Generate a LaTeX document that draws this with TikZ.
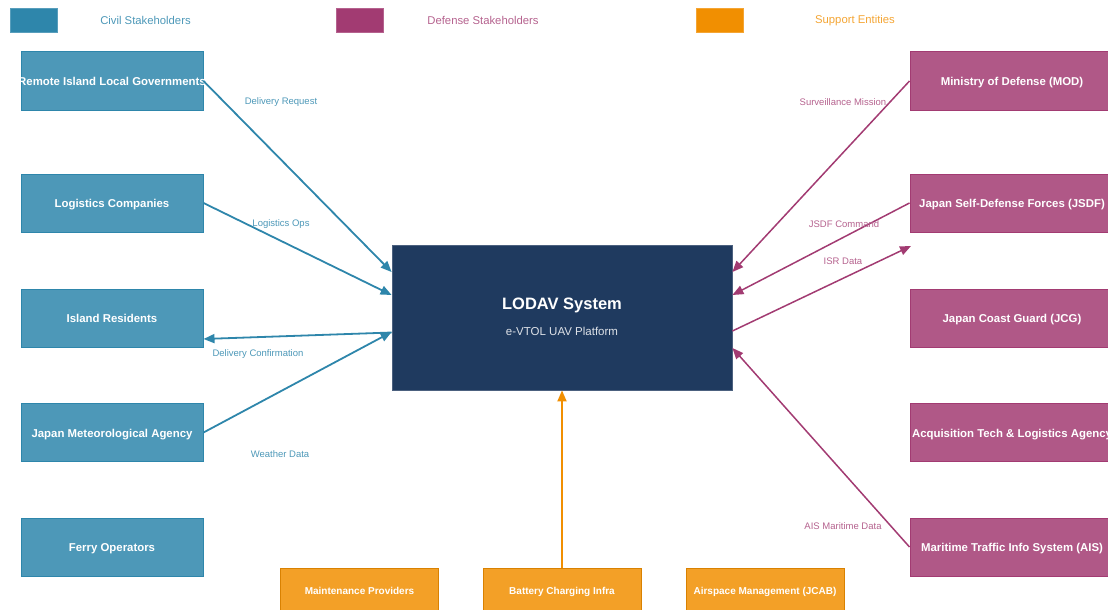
\documentclass[tikz,border=0pt]{standalone}
\usepackage{fontspec}
\setmainfont{Liberation Sans}
\usetikzlibrary{arrows.meta}
\definecolor{civil}{HTML}{2E86AB}
\definecolor{defense}{HTML}{A23B72}
\definecolor{support}{HTML}{F18F01}
\definecolor{core}{HTML}{1F3A5F}
\tikzset{
  civbox/.style={draw=civil, line width=1pt, fill=civil!85!white, minimum width=182pt, minimum height=58pt, inner sep=0pt, inner xsep=-10pt, text=white, text height=9.5pt, text depth=0pt, font=\bfseries\fontsize{11.4}{13}\selectfont},
  defbox/.style={draw=defense, line width=1pt, fill=defense!85!white, minimum width=204pt, minimum height=58pt, inner sep=0pt, inner xsep=-10pt, text=white, text height=9.5pt, text depth=0pt, font=\bfseries\fontsize{11.4}{13}\selectfont},
  supbox/.style={draw=support!90!black, line width=1pt, fill=support!85!white, minimum width=158pt, minimum height=45pt, inner sep=0pt, text=white, text height=8pt, text depth=0pt, font=\bfseries\fontsize{10}{12}\selectfont},
  swatch/.style={minimum width=47pt, minimum height=24pt, inner sep=0pt, line width=0.6pt},
  legtext/.style={font=\fontsize{11.3}{13}\selectfont, inner sep=0pt},
  lbl/.style={font=\fontsize{9.5}{11}\selectfont, inner sep=0pt},
  civarrow/.style={draw=civil, line width=1.8pt, -{Triangle[length=11pt,width=9pt]}},
  defarrow/.style={draw=defense, line width=1.5pt, -{Triangle[length=11pt,width=9pt]}},
  suparrow/.style={draw=support, line width=1.8pt, -{Triangle[length=11pt,width=9pt]}}
}
\begin{document}
\begin{tikzpicture}[x=1pt,y=-1pt]
\path[use as bounding box] (0,0) rectangle (1108,610);
\begin{scope}
\clip (0,0) rectangle (1108,610);
% legend
\node[swatch, fill=civil, draw=civil!80!white] (lgc) at (33.5,20) {};
\node[legtext, text=civil!85!white] (lgct) at (145.5,20.5) {Civil Stakeholders};
\node[swatch, fill=defense, draw=defense!80!white] (lgd) at (359.5,20) {};
\node[legtext, text=defense!80!white] (lgdt) at (483,20.5) {Defense Stakeholders};
\node[swatch, fill=support, draw=support!80!white] (lgs) at (719.5,20) {};
\node[legtext, text=support!80!white] (lgst) at (855,20.5) {Support Entities};

% central
\node[fill=core, draw=core!80!white, line width=0.8pt, minimum width=340pt, minimum height=145pt, inner sep=0pt] (lodav) at (562,317.5) {};
\node[text=white, font=\bfseries\fontsize{16.5}{19}\selectfont, inner sep=0pt] (lodavt) at (562,305) {LODAV System};
\node[text=white!85!core, font=\fontsize{11.5}{13}\selectfont, inner sep=0pt] (lodavs) at (562,331.5) {e-VTOL UAV Platform};

% civil
\node[civbox] (rig) at (112,81) {Remote Island Local Governments};
\node[civbox] (log) at (112,203) {Logistics Companies};
\node[civbox] (res) at (112,318) {Island Residents};
\node[civbox] (jma) at (112,432.5) {Japan Meteorological Agency};
\node[civbox] (fer) at (112,547) {Ferry Operators};

% defense
\node[defbox] (mod) at (1012,81) {Ministry of Defense (MOD)};
\node[defbox] (jsdf) at (1012,203) {Japan Self-Defense Forces (JSDF)};
\node[defbox] (jcg) at (1012,318) {Japan Coast Guard (JCG)};
\node[defbox] (atla) at (1012,432.5) {Acquisition Tech \& Logistics Agency};
\node[defbox] (ais) at (1012,547) {Maritime Traffic Info System (AIS)};

% support
\node[supbox] (mnt) at (359.5,590.5) {Maintenance Providers};
\node[supbox] (bat) at (562,590.5) {Battery Charging Infra};
\node[supbox] (jcab) at (765,590.5) {Airspace Management (JCAB)};
\end{scope}

% civil connectors
\draw[civarrow] (rig.east) -- ([yshift=45.5pt]lodav.west);
\draw[civarrow] (log.east) -- ([yshift=22.5pt]lodav.west);
\draw[civarrow] ([yshift=-15pt]lodav.west) -- ([yshift=-21pt]res.east);
\draw[civarrow] (jma.east) -- ([yshift=-14.5pt]lodav.west);

% defense connectors
\coordinate (isrend) at (911,246);
\draw[defarrow] (mod.west) -- ([yshift=45.5pt]lodav.east);
\draw[defarrow] (jsdf.west) -- ([yshift=22.5pt]lodav.east);
\draw[defarrow] ([yshift=-13.5pt]lodav.east) -- (isrend);
\draw[defarrow] (ais.west) -- ([yshift=-30.5pt]lodav.east);

% support connector
\draw[suparrow] (bat.north) -- (lodav.south);

% labels
\node[lbl, text=civil!85!white] (l1) at (281,102.5) {Delivery Request};
\node[lbl, text=civil!85!white] (l2) at (281,224.5) {Logistics Ops};
\node[lbl, text=civil!85!white] (l3) at (258,354) {Delivery Confirmation};
\node[lbl, text=civil!85!white] (l4) at (280,454) {Weather Data};
\node[lbl, text=defense!80!white] (l5) at (843,102.5) {Surveillance Mission};
\node[lbl, text=defense!80!white] (l6) at (844,224.5) {JSDF Command};
\node[lbl, text=defense!80!white] (l7) at (843,261.5) {ISR Data};
\node[lbl, text=defense!80!white] (l8) at (843,526) {AIS Maritime Data};
\end{tikzpicture}
\end{document}
